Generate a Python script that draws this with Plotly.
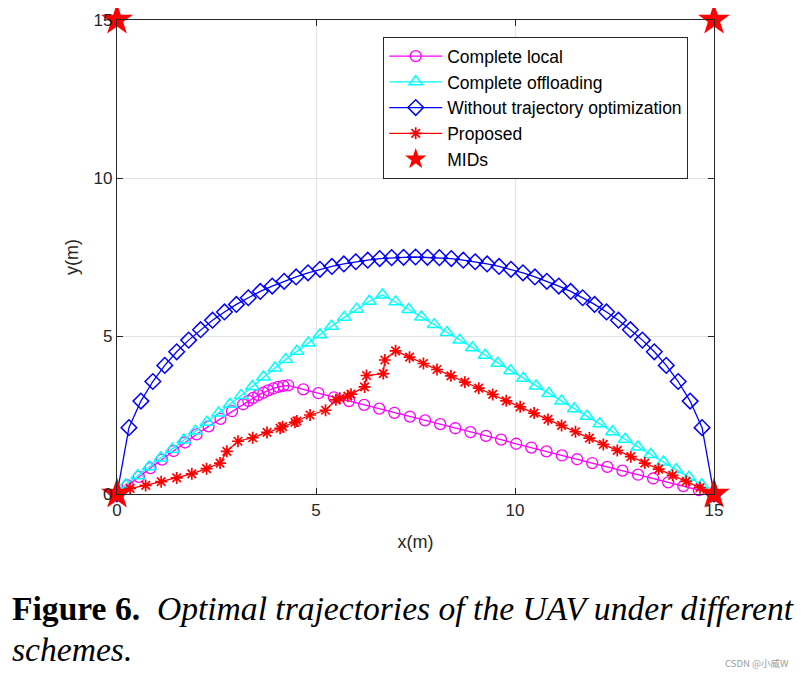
import plotly.graph_objects as go

# ---- data ----
local_x = [0, 0.27, 0.55, 0.84, 1.13, 1.42, 1.71, 2.00, 2.30, 2.60, 2.89, 3.17,
           3.30, 3.42, 3.55, 3.68, 3.80, 3.93, 4.05, 4.18, 4.30,
           4.68, 5.06, 5.45, 5.83, 6.21, 6.59, 6.97, 7.36, 7.74, 8.12, 8.50, 8.88,
           9.27, 9.65, 10.03, 10.41, 10.79, 11.18, 11.56, 11.94, 12.32, 12.70,
           13.09, 13.47, 13.85, 14.23, 14.62, 15.0]
local_y = [0, 0.27, 0.54, 0.82, 1.09, 1.36, 1.63, 1.89, 2.14, 2.38, 2.62, 2.84,
           2.95, 3.04, 3.13, 3.21, 3.28, 3.34, 3.39, 3.42, 3.44,
           3.31, 3.19, 3.06, 2.94, 2.82, 2.70, 2.57, 2.45, 2.33, 2.21, 2.08, 1.96,
           1.84, 1.72, 1.59, 1.47, 1.35, 1.22, 1.10, 0.98, 0.86, 0.74,
           0.61, 0.49, 0.37, 0.25, 0.12, 0]

off_x = [0, 0.22, 0.52, 0.81, 1.10, 1.39, 1.68, 1.97, 2.26, 2.55, 2.84, 3.12,
         3.40, 3.68, 3.97, 4.24, 4.52, 4.81, 5.10, 5.39, 5.71, 6.02, 6.34, 6.67,
         7.00, 7.33, 7.65, 7.97, 8.29, 8.61, 8.93, 9.25, 9.57, 9.89, 10.21, 10.53,
         10.85, 11.17, 11.49, 11.81, 12.13, 12.45, 12.77, 13.09, 13.41, 13.73,
         14.05, 14.37, 14.69, 15.0]
off_y = [0, 0.29, 0.58, 0.86, 1.14, 1.42, 1.71, 1.99, 2.27, 2.56, 2.84, 3.12,
         3.40, 3.70, 3.99, 4.26, 4.52, 4.78, 5.04, 5.31, 5.59, 5.85, 6.10, 6.30,
         6.08, 5.84, 5.60, 5.36, 5.11, 4.87, 4.63, 4.39, 4.14, 3.90, 3.66, 3.42,
         3.18, 2.94, 2.70, 2.46, 2.22, 1.97, 1.73, 1.49, 1.25, 1.01,
         0.77, 0.53, 0.29, 0]

nto_x = [0, 0.3, 0.6, 0.9, 1.2, 1.5, 1.8, 2.1, 2.4, 2.7, 3.0, 3.3, 3.6, 3.9, 4.2,
         4.5, 4.8, 5.1, 5.4, 5.7, 6.0, 6.3, 6.6, 6.9, 7.2, 7.5, 7.8, 8.1, 8.4, 8.7,
         9.0, 9.3, 9.6, 9.9, 10.2, 10.5, 10.8, 11.1, 11.4, 11.7, 12.0, 12.3, 12.6,
         12.9, 13.2, 13.5, 13.8, 14.1, 14.4, 14.7, 15.0]
nto_y = [0, 2.10, 2.94, 3.56, 4.07, 4.50, 4.87, 5.20, 5.50, 5.76, 6.00, 6.21, 6.41,
         6.58, 6.73, 6.87, 7.00, 7.11, 7.20, 7.28, 7.35, 7.40, 7.45, 7.48, 7.49,
         7.50, 7.49, 7.48, 7.45, 7.40, 7.35, 7.28, 7.20, 7.11, 7.00, 6.87, 6.73,
         6.58, 6.41, 6.21, 6.00, 5.76, 5.50, 5.20, 4.87, 4.50, 4.07, 3.56, 2.94,
         2.10, 0]

prop_x = [0, 0.33, 0.72, 1.11, 1.50, 1.88, 2.25, 2.59, 2.76, 3.04, 3.41, 3.77,
          4.10, 4.16, 4.47, 4.52, 4.85, 5.24, 5.50, 5.60, 5.80, 5.88, 6.22, 6.27,
          6.69, 6.73, 7.00, 7.35, 7.70, 8.04, 8.39, 8.74, 9.09, 9.44, 9.78, 10.13,
          10.48, 10.83, 11.17, 11.52, 11.87, 12.22, 12.57, 12.91, 13.26, 13.61,
          13.96, 14.30, 14.65, 15.0]
prop_y = [0, 0.18, 0.27, 0.39, 0.51, 0.64, 0.80, 0.98, 1.35, 1.67, 1.78, 1.95,
          2.08, 2.13, 2.27, 2.31, 2.50, 2.65, 2.98, 3.03, 3.10, 3.16, 3.39, 3.75,
          3.81, 4.24, 4.53, 4.33, 4.13, 3.94, 3.74, 3.54, 3.35, 3.15, 2.95, 2.76,
          2.56, 2.36, 2.17, 1.97, 1.77, 1.57, 1.38, 1.18, 0.98, 0.79,
          0.59, 0.40, 0.20, 0]

mid_x = [0, 15, 0, 15]
mid_y = [0, 0, 15, 15]

x_ticks = [0, 5, 10, 15]
y_ticks = [0, 5, 10, 15]

fig = go.Figure()

fig.add_trace(go.Scatter(
    x=local_x, y=local_y, mode="lines+markers", name="Complete local",
    line=dict(color="#ff00ff", width=1.3),
    marker=dict(symbol="circle-open", size=11, color="#ff00ff", line=dict(width=1.3)),
    cliponaxis=False))
fig.add_trace(go.Scatter(
    x=off_x, y=off_y, mode="lines+markers", name="Complete offloading",
    line=dict(color="#00ffff", width=1.3),
    marker=dict(symbol="triangle-up-open", size=12, color="#00ffff", line=dict(width=1.5)),
    cliponaxis=False))
fig.add_trace(go.Scatter(
    x=nto_x, y=nto_y, mode="lines+markers", name="Without trajectory optimization",
    line=dict(color="#0000ff", width=1.3),
    marker=dict(symbol="diamond-open", size=12, color="#0000ff", line=dict(width=1.5)),
    cliponaxis=False))
fig.add_trace(go.Scatter(
    x=prop_x, y=prop_y, mode="lines+markers", name="Proposed",
    line=dict(color="#ff0000", width=1.3),
    marker=dict(symbol="asterisk-open", size=10, color="#ff0000", line=dict(width=1.7, color="#ff0000")),
    cliponaxis=False))
fig.add_trace(go.Scatter(
    x=mid_x, y=mid_y, mode="markers", name="MIDs",
    marker=dict(symbol="star", size=24, color="#ff0000", line=dict(width=0)),
    cliponaxis=False))

axis_common = dict(
    showline=True, linecolor="#262626", linewidth=1.2, mirror="ticks",
    ticks="inside", ticklen=6, tickcolor="#262626", tickwidth=1.2,
    showgrid=True, gridcolor="#e3e3e3", gridwidth=1, zeroline=False,
    tickfont=dict(family="Liberation Sans, Arial", size=17, color="#262626"),
)

fig.update_xaxes(range=[0, 15], tickvals=x_ticks, ticktext=[str(v) for v in x_ticks],
                 title=dict(text="x(m)", font=dict(family="Liberation Sans, Arial", size=18, color="#262626"),
                            standoff=16),
                 **axis_common)
fig.update_yaxes(range=[0, 15], tickvals=y_ticks, ticktext=[str(v) for v in y_ticks],
                 title=dict(text="y(m)", font=dict(family="Liberation Sans, Arial", size=18, color="#262626"),
                            standoff=10),
                 **axis_common)

# the page body has an 8px margin, so the plot box is placed 8px up/left
OFF = 8
fig.update_layout(
    width=807, height=679,
    margin=dict(l=117 - OFF, r=807 - (714 - OFF), t=20 - OFF, b=679 - (494 - OFF), autoexpand=False),
    paper_bgcolor="white", plot_bgcolor="white",
    showlegend=True,
    legend=dict(x=(383 - 117) / 597, y=(494 - 37) / 474, xanchor="left", yanchor="top",
                bgcolor="white", bordercolor="#262626", borderwidth=1.2,
                font=dict(family="Liberation Sans, Arial", size=17.5, color="black"),
                tracegroupgap=0, itemwidth=53),
    annotations=[
        dict(text="<b>Figure 6.</b>\u00a0\u00a0<i>Optimal trajectories of the UAV under different</i>",
             xref="paper", yref="paper", x=(10 - 117) / 597, y=(494 - 608) / 474,
             xanchor="left", yanchor="middle", showarrow=False,
             font=dict(family="Liberation Serif, Times New Roman", size=33.6, color="black")),
        dict(text="<i>schemes.</i>",
             xref="paper", yref="paper", x=(10 - 117) / 597, y=(494 - 649) / 474,
             xanchor="left", yanchor="middle", showarrow=False,
             font=dict(family="Liberation Serif, Times New Roman", size=33.6, color="black")),
        dict(text="CSDN @小威W",
             xref="paper", yref="paper", x=(791 - 117) / 597, y=(494 - 663) / 474,
             xanchor="right", yanchor="middle", showarrow=False,
             font=dict(family="Noto Sans CJK SC, Liberation Sans", size=9.5, color="#9a9a9a")),
    ],
)

fig.write_html("out.html")
